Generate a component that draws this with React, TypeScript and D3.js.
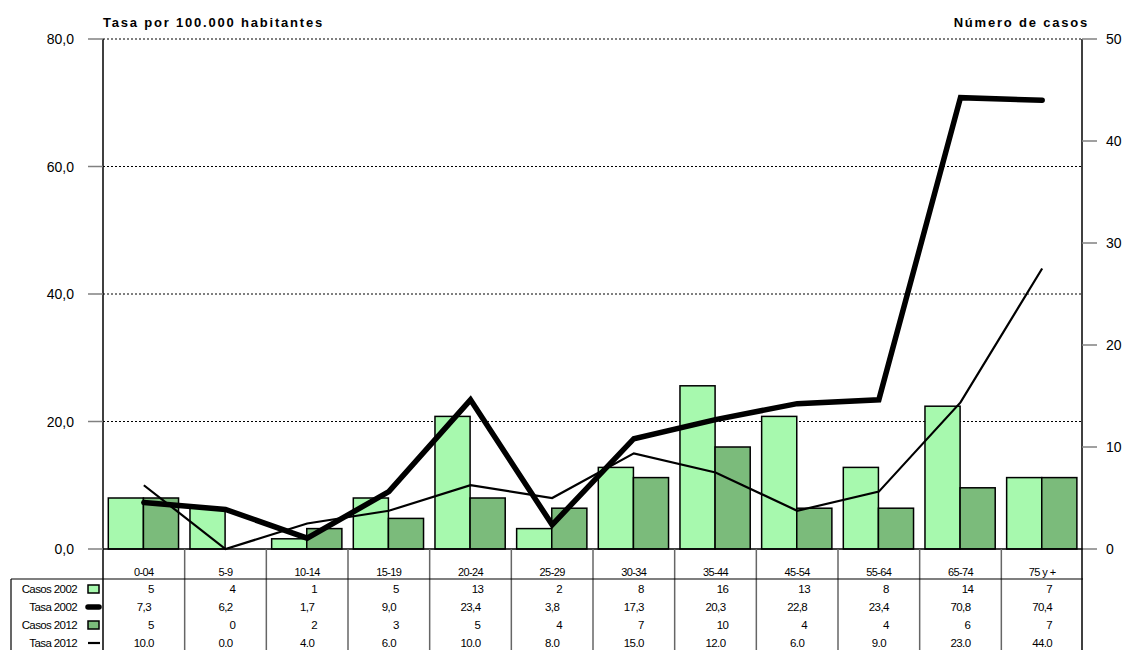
import React from 'react';
import * as d3 from 'd3';

const grupos = ['0-04', '5-9', '10-14', '15-19', '20-24', '25-29', '30-34', '35-44', '45-54', '55-64', '65-74', '75 y +'];
const casos2002 = [5, 4, 1, 5, 13, 2, 8, 16, 13, 8, 14, 7];
const tasa2002 = [7.3, 6.2, 1.7, 9.0, 23.4, 3.8, 17.3, 20.3, 22.8, 23.4, 70.8, 70.4];
const casos2012 = [5, 0, 2, 3, 5, 4, 7, 10, 4, 4, 6, 7];
const tasa2012 = [10, 0, 4, 6, 10, 8, 15, 12, 6, 9, 23, 44];
const tasaTicks = [0, 20, 40, 60, 80];
const casosTicks = [0, 10, 20, 30, 40, 50];

const W = 1127;
const H = 650;
const FONT = '"Liberation Sans", Arial, sans-serif';
const LIGHT = '#a7f9ae';
const DARK = '#7bbb7b';

const App: React.FC = () => {
  const left = 103;
  const right = 1083;
  const top = 39;
  const bottom = 549;

  const x = d3.scaleBand<string>().domain(grupos).range([left, right]).padding(0);
  const bw = x.bandwidth();
  const xs = d3.scaleBand<string>().domain(['2002', '2012']).range([bw * 0.065, bw * 0.925]).padding(0);
  const yTasa = d3.scaleLinear().domain([0, 80]).range([bottom, top]);
  const yCasos = d3.scaleLinear().domain([0, 50]).range([bottom, top]);

  const cx = (g: string) => (x(g) || 0) + bw / 2;
  const line = d3.line<number>()
    .x((_, i) => cx(grupos[i]))
    .y(d => yTasa(d));

  const fmtComma = (v: number) => v.toFixed(1).replace('.', ',');
  const fmtDot = (v: number) => v.toFixed(1);

  const headerY = 579;
  const rowH = 18;
  const rows = [
    { label: 'Casos 2002', values: casos2002.map(String), kind: 'light', intRow: true },
    { label: 'Tasa 2002', values: tasa2002.map(fmtComma), kind: 'thick', intRow: false },
    { label: 'Casos 2012', values: casos2012.map(String), kind: 'dark', intRow: true },
    { label: 'Tasa 2012', values: tasa2012.map(fmtDot), kind: 'thin', intRow: false },
  ];

  return (
    <svg width={W} height={H} style={{ position: 'absolute', left: 0, top: 0, background: '#fff' }} fontFamily={FONT}>
      {/* titles */}
      <text x={left} y={27} fontSize={13} fontWeight="bold" letterSpacing={1.8}>Tasa por 100.000 habitantes</text>
      <text x={1089} y={27} fontSize={13} fontWeight="bold" letterSpacing={1.8} textAnchor="end">Número de casos</text>

      {/* grid lines */}
      {tasaTicks.filter(t => t > 0).map(t => (
        <line key={t} x1={left} x2={right} y1={yTasa(t)} y2={yTasa(t)} stroke="#000" strokeWidth={1} strokeDasharray="2,2" />
      ))}

      {/* bars */}
      {grupos.map((g, i) => (
        <g key={g}>
          {casos2002[i] > 0 && (
            <rect x={(x(g) || 0) + (xs('2002') || 0)} y={yCasos(casos2002[i])} width={xs.bandwidth()}
              height={bottom - yCasos(casos2002[i])} fill={LIGHT} stroke="#000" strokeWidth={1.5} />
          )}
          {casos2012[i] > 0 && (
            <rect x={(x(g) || 0) + (xs('2012') || 0)} y={yCasos(casos2012[i])} width={xs.bandwidth()}
              height={bottom - yCasos(casos2012[i])} fill={DARK} stroke="#000" strokeWidth={1.5} />
          )}
        </g>
      ))}

      {/* lines */}
      <path d={line(tasa2012) || ''} fill="none" stroke="#000" strokeWidth={2.2} strokeLinejoin="miter" />
      <path d={line(tasa2002) || ''} fill="none" stroke="#000" strokeWidth={5.5} strokeLinejoin="miter" strokeLinecap="round" />

      {/* left axis */}
      <line x1={left} x2={left} y1={top} y2={H} stroke="#000" strokeWidth={1.5} />
      {tasaTicks.map(t => (
        <g key={t}>
          <line x1={88} x2={left} y1={yTasa(t)} y2={yTasa(t)} stroke="#808080" strokeWidth={1.5} />
          <text x={74} y={yTasa(t) + 5} fontSize={14} textAnchor="end">{fmtComma(t)}</text>
        </g>
      ))}

      {/* right axis */}
      <line x1={right - 1} x2={right - 1} y1={top} y2={H} stroke="#000" strokeWidth={1.5} />
      {casosTicks.map(t => (
        <g key={t}>
          <line x1={right - 1} x2={1097} y1={yCasos(t)} y2={yCasos(t)} stroke="#808080" strokeWidth={1.5} />
          <text x={1106} y={yCasos(t) + 5} fontSize={14}>{t}</text>
        </g>
      ))}

      {/* x axis */}
      <line x1={left} x2={right} y1={bottom} y2={bottom} stroke="#000" strokeWidth={1.5} />

      {/* table */}
      {grupos.slice(1).map(g => (
        <line key={g} x1={x(g) || 0} x2={x(g) || 0} y1={bottom} y2={H} stroke="#666" strokeWidth={1.5} />
      ))}
      <line x1={11} x2={right} y1={headerY} y2={headerY} stroke="#000" strokeWidth={1.2} />
      <line x1={11} x2={11} y1={headerY} y2={H} stroke="#000" strokeWidth={1.2} />
      {grupos.map(g => (
        <text key={g} x={cx(g)} y={576} fontSize={11} letterSpacing={-0.6} textAnchor="middle">{g}</text>
      ))}
      {rows.map((r, ri) => {
        const cy = headerY + rowH * ri + 10;
        return (
          <g key={r.label}>
            <text x={77} y={cy + 4} fontSize={11.5} letterSpacing={-0.6} textAnchor="end">{r.label}</text>
            {r.kind === 'light' && <rect x={88} y={cy - 4} width={11} height={8} fill={LIGHT} stroke="#000" strokeWidth={1.5} />}
            {r.kind === 'dark' && <rect x={88} y={cy - 4} width={11} height={8} fill={DARK} stroke="#000" strokeWidth={1.5} />}
            {r.kind === 'thick' && <line x1={88} x2={99} y1={cy} y2={cy} stroke="#000" strokeWidth={5.5} strokeLinecap="round" />}
            {r.kind === 'thin' && <line x1={88} x2={100} y1={cy} y2={cy} stroke="#000" strokeWidth={2.2} />}
            {r.values.map((v, i) => (
              <text key={i} x={cx(grupos[i]) + (r.intRow ? 7 : 0)} y={cy + 4} fontSize={11.5} letterSpacing={-0.6} textAnchor="middle">{v}</text>
            ))}
          </g>
        );
      })}
    </svg>
  );
};

export default App;
